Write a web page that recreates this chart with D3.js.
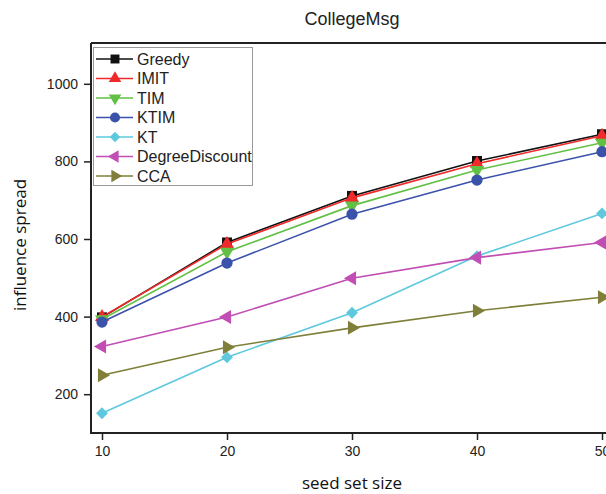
<!DOCTYPE html>
<html>
<head>
<meta charset="utf-8">
<script src="https://cdn.jsdelivr.net/npm/d3@7"></script>
<style>
  body { margin: 0; background: #fff; overflow: hidden; }
  svg { display: block; }
  text { font-family: "Liberation Sans", Arial, sans-serif; fill: #222; }
</style>
</head>
<body>
<script>
var seedSizes = [10, 20, 30, 40, 50];
var names = ["Greedy", "IMIT", "TIM", "KTIM", "KT", "DegreeDiscount", "CCA"];
var greedy = [398, 591, 711, 801, 870];
var imit = [399, 587, 706, 794, 866];
var tim = [393, 567, 686, 778, 848];
var ktim = [386, 538, 664, 752, 825];
var kt = [151, 295, 410, 556, 666];
var degreeDiscount = [323, 399, 499, 552, 591];
var cca = [249, 321, 371, 415, 450];
var yTicks = [200, 400, 600, 800, 1000];

var colors = ["#111111", "#f02a2a", "#62c044", "#3b52aa", "#5ec8de", "#c04eb4", "#7f7f3a"];
// [symbol, area, rotation]
var shapes = [
  [d3.symbolSquare, 100, 0],
  [d3.symbolTriangle, 85, 0],
  [d3.symbolTriangle, 85, 180],
  [d3.symbolCircle, 100, 0],
  [d3.symbolSquare, 70, 45],
  [d3.symbolTriangle, 85, -90],
  [d3.symbolTriangle, 85, 90]
];
var series = [greedy, imit, tim, ktim, kt, degreeDiscount, cca];

var svg = d3.select("body").append("svg")
  .attr("width", 606)
  .attr("height", 494);

var x = d3.scaleLinear().domain([10, 50]).range([102, 602]);
var y = d3.scaleLinear().domain([100, 1100]).range([433, 45]);

// title
svg.append("text")
  .attr("x", 352).attr("y", 25)
  .attr("text-anchor", "middle")
  .style("font-size", "18px")
  .text("CollegeMsg");

// axes
var xAxis = svg.append("g")
  .attr("transform", "translate(0,433)")
  .call(d3.axisBottom(x).tickValues(seedSizes).tickSize(7).tickPadding(6));
var yAxis = svg.append("g")
  .attr("transform", "translate(91,0)")
  .call(d3.axisLeft(y).tickValues(yTicks).tickFormat(d3.format("d")).tickSize(7).tickPadding(6));
[xAxis, yAxis].forEach(function(a) {
  a.select(".domain").remove();
  a.selectAll("line").attr("stroke", "#222").attr("stroke-width", 1.5);
  a.selectAll("text").style("font-size", "14px").style("font-family", "Liberation Sans, Arial, sans-serif").attr("fill", "#222");
});

// frame
svg.append("path")
  .attr("d", "M91,43 L620,43 M91,43 L91,433 L620,433")
  .attr("fill", "none")
  .attr("stroke", "#222")
  .attr("stroke-width", 2);

// axis labels
svg.append("text")
  .attr("x", 352).attr("y", 489)
  .attr("text-anchor", "middle")
  .style("font-family", "Open Sans, sans-serif")
  .style("font-size", "17px")
  .style("fill", "#111")
  .text("seed set size");
svg.append("text")
  .attr("transform", "translate(26,245) rotate(-90)")
  .attr("text-anchor", "middle")
  .style("font-family", "Open Sans, sans-serif")
  .style("font-size", "17px")
  .style("fill", "#111")
  .text("influence spread");

function marker(i, k) {
  return d3.symbol().type(shapes[i][0]).size(shapes[i][1] * k)();
}

var line = d3.line()
  .x(function(d, j) { return x(seedSizes[j]); })
  .y(function(d) { return y(d); });

series.forEach(function(vals, i) {
  var g = svg.append("g");
  g.append("path")
    .attr("d", line(vals))
    .attr("fill", "none")
    .attr("stroke", colors[i])
    .attr("stroke-width", 1.6);
  g.selectAll("path.m")
    .data(vals)
  .enter()
    .append("path")
    .attr("class", "m")
    .attr("d", marker(i, 1))
    .attr("fill", colors[i])
    .attr("transform", function(d, j) {
      return "translate(" + x(seedSizes[j]) + "," + y(d) + ") rotate(" + shapes[i][2] + ")";
    });
});

// legend
var legend = svg.append("g");
legend.append("rect")
  .attr("x", 93.5).attr("y", 47.5)
  .attr("width", 159).attr("height", 138)
  .attr("fill", "#fff")
  .attr("stroke", "#999");
names.forEach(function(name, i) {
  var ly = 59 + i * 19.5;
  legend.append("line")
    .attr("x1", 96).attr("x2", 133)
    .attr("y1", ly).attr("y2", ly)
    .attr("stroke", colors[i])
    .attr("stroke-width", 1.6);
  legend.append("path")
    .attr("d", marker(i, 0.8))
    .attr("fill", colors[i])
    .attr("transform", "translate(115," + ly + ") rotate(" + shapes[i][2] + ")");
  legend.append("text")
    .attr("x", 137).attr("y", ly + 5.5)
    .style("font-size", "16px")
    .text(name);
});
</script>
</body>
</html>
